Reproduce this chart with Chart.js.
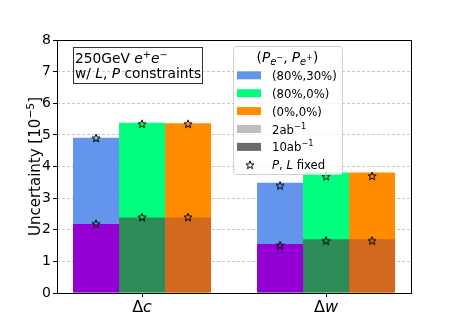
<!DOCTYPE html>
<html>
<head>
<meta charset="utf-8">
<script src="https://cdn.jsdelivr.net/npm/chart.js@4.4.1/dist/chart.umd.min.js"></script>
<style>
  html, body { margin: 0; padding: 0; background: #fff; }
  #chart { display: block; }
</style>
</head>
<body>
<canvas id="chart" width="457" height="330"></canvas>
<script>
// categories on the x axis
const categories = ['Δc', 'Δw'];
const catSymbol = ['Δ', 'Δ'];
const catLetter = ['c', 'w'];

// polarisation configurations (P_e-, P_e+)
const polLabels = ['(80%,30%)', '(80%,0%)', '(0%,0%)'];

// uncertainty [1e-5], 2 ab^-1 (full bar) per configuration, [Δc, Δw]
const lumi2Blue = [4.91, 3.49];
const lumi2Green = [5.38, 3.81];
const lumi2Orange = [5.37, 3.81];
// 10 ab^-1 (lower bar)
const lumi10Blue = [2.18, 1.55];
const lumi10Green = [2.39, 1.70];
const lumi10Orange = [2.39, 1.70];
// P, L fixed (stars)
const fixed2Blue = [4.90, 3.40];
const fixed2Green = [5.35, 3.69];
const fixed2Orange = [5.35, 3.70];
const fixed10Blue = [2.19, 1.51];
const fixed10Green = [2.40, 1.66];
const fixed10Orange = [2.40, 1.66];

const yTicks = [0, 1, 2, 3, 4, 5, 6, 7, 8];

const lumi2Colors = ['#6495ED', '#00FF7F', '#FF8C00'];
const lumi10Colors = ['#9400D3', '#2E8B57', '#D2691E'];

const FONT = '"DejaVu Sans", "Liberation Sans", sans-serif';
const catPct = 0.75;
const barUnit = catPct / 3;

const lumi2 = [lumi2Blue, lumi2Green, lumi2Orange];
const lumi10 = [lumi10Blue, lumi10Green, lumi10Orange];
const fixed2 = [fixed2Blue, fixed2Green, fixed2Orange];
const fixed10 = [fixed10Blue, fixed10Green, fixed10Orange];

function makeStar() {
  const c = document.createElement('canvas');
  c.width = 12; c.height = 12;
  const g = c.getContext('2d');
  g.beginPath();
  for (let k = 0; k < 10; k++) {
    const r = k % 2 ? 1.8 : 4.3;
    const a = -Math.PI / 2 + k * Math.PI / 5;
    const px = 6 + r * Math.cos(a), py = 6.4 + r * Math.sin(a);
    if (k) g.lineTo(px, py); else g.moveTo(px, py);
  }
  g.closePath();
  g.strokeStyle = '#000';
  g.lineWidth = 1;
  g.stroke();
  return c;
}
const starImg = makeStar();

const toPoints = (arr) => arr.map((v, i) => ({ x: i, y: v }));

const datasets = [];
const starPoints = [];
for (let k = 0; k < 3; k++) {
  datasets.push({
    type: 'bar', label: polLabels[k] + ' 10ab', data: toPoints(lumi10[k]),
    backgroundColor: lumi10Colors[k], stack: 's' + k, order: 1
  });
  datasets.push({
    type: 'bar', label: polLabels[k] + ' 2ab', data: toPoints(lumi2[k]),
    backgroundColor: lumi2Colors[k], stack: 's' + k, order: 2
  });
  categories.forEach((_, i) => {
    const x = i + (k - 1) * barUnit;
    starPoints.push({ x: x, y: fixed2[k][i] });
    starPoints.push({ x: x, y: fixed10[k][i] });
  });
}
datasets.push({
  type: 'scatter', label: 'P, L fixed', data: starPoints,
  pointStyle: starImg, order: 0
});

function fontOf(p, base) {
  return (p.i ? 'italic ' : '') + (base * (p.s || 1)).toFixed(1) + 'px ' + FONT;
}
function richWidth(ctx, parts, base) {
  let w = 0;
  for (const p of parts) { ctx.font = fontOf(p, base); w += ctx.measureText(p.t).width; }
  return w;
}
function drawRich(ctx, parts, x, y, base) {
  for (const p of parts) {
    ctx.font = fontOf(p, base);
    ctx.fillText(p.t, x, y + (p.dy || 0));
    x += ctx.measureText(p.t).width;
  }
}

const decor = {
  id: 'decor',
  afterDraw(chart) {
    const ctx = chart.ctx;
    const a = chart.chartArea;
    const xs = chart.scales.x;
    ctx.save();
    ctx.fillStyle = '#000';
    ctx.textBaseline = 'alphabetic';

    // frame
    ctx.strokeStyle = '#000';
    ctx.lineWidth = 1;
    ctx.strokeRect(a.left + 0.5, a.top + 0.5, a.right - a.left - 1, a.bottom - a.top);

    // y axis title, rotated
    const yTitle = [{ t: 'Uncertainty [10' }, { t: '−5', s: 0.72, dy: -6 }, { t: ']' }];
    const yw = richWidth(ctx, yTitle, 15);
    ctx.save();
    ctx.translate(40, (a.top + a.bottom) / 2);
    ctx.rotate(-Math.PI / 2);
    drawRich(ctx, yTitle, -yw / 2, 0, 15);
    ctx.restore();

    // x tick labels: upright Δ + italic letter
    categories.forEach((c, i) => {
      const parts = [{ t: catSymbol[i] }, { t: catLetter[i], i: 1 }];
      const w = richWidth(ctx, parts, 16);
      drawRich(ctx, parts, xs.getPixelForValue(i) - w / 2, a.bottom + 19, 16);
    });

    // text box, top left
    const bx = a.left + 16, by = a.top + 7;
    ctx.strokeStyle = '#333';
    ctx.strokeRect(bx + 0.5, by + 0.5, 129, 36);
    drawRich(ctx, [{ t: '250GeV ' }, { t: 'e', i: 1 }, { t: '+', s: 0.7, dy: -5 },
      { t: 'e', i: 1 }, { t: '−', s: 0.7, dy: -5 }], bx + 2, by + 16, 13.8);
    drawRich(ctx, [{ t: 'w/ ' }, { t: 'L', i: 1 }, { t: ', ' }, { t: 'P', i: 1 },
      { t: ' constraints' }], bx + 2, by + 31, 13.8);

    // legend
    const lx = 233, ly = 46, lw = 109, lh = 128;
    ctx.beginPath();
    ctx.roundRect(lx + 0.5, ly + 0.5, lw, lh, 3);
    ctx.fillStyle = 'rgba(255,255,255,0.8)';
    ctx.fill();
    ctx.strokeStyle = '#d0d0d0';
    ctx.stroke();
    ctx.fillStyle = '#000';
    const title = [{ t: '(' }, { t: 'P', i: 1 }, { t: 'e', i: 1, s: 0.72, dy: 3 }, { t: '−', s: 0.6, dy: -2 },
      { t: ', ' }, { t: 'P', i: 1 }, { t: 'e', i: 1, s: 0.72, dy: 3 }, { t: '+', s: 0.6, dy: -2 }, { t: ')' }];
    const tw = richWidth(ctx, title, 13.7);
    drawRich(ctx, title, lx + lw / 2 - tw / 2, ly + 16, 13.7);

    const rows = [
      { color: lumi2Colors[0], parts: [{ t: polLabels[0] }] },
      { color: lumi2Colors[1], parts: [{ t: polLabels[1] }] },
      { color: lumi2Colors[2], parts: [{ t: polLabels[2] }] },
      { color: '#bdbdbd', parts: [{ t: '2ab' }, { t: '−1', s: 0.7, dy: -5 }] },
      { color: '#6b6b6b', parts: [{ t: '10ab' }, { t: '−1', s: 0.7, dy: -5 }] },
      { star: true, parts: [{ t: 'P', i: 1 }, { t: ', ' }, { t: 'L', i: 1 }, { t: ' fixed' }] }
    ];
    rows.forEach((r, k) => {
      const cy = ly + 29.3 + k * 17.9;
      if (r.star) {
        ctx.drawImage(starImg, 250 - 6, cy - 6);
      } else {
        ctx.fillStyle = r.color;
        ctx.fillRect(237, cy - 4, 24, 8);
      }
      ctx.fillStyle = '#000';
      drawRich(ctx, r.parts, 272, cy + 4.5, 11.7);
    });
    ctx.restore();
  }
};

new Chart(document.getElementById('chart'), {
  type: 'bar',
  data: { datasets },
  options: {
    responsive: false,
    animation: false,
    devicePixelRatio: 1,
    layout: { padding: { left: 0, right: 45, top: 40, bottom: 0 } },
    datasets: {
      bar: { barPercentage: 1, categoryPercentage: catPct, borderWidth: 0 }
    },
    plugins: { legend: { display: false }, tooltip: { enabled: false } },
    scales: {
      x: {
        type: 'linear', min: -0.462, max: 1.467, stacked: true, offset: false,
        afterBuildTicks: (s) => { s.ticks = categories.map((_, i) => ({ value: i })); },
        afterFit: (s) => { s.height = 37; },
        ticks: { display: false },
        grid: { offset: false, drawOnChartArea: false, drawTicks: true, tickLength: 4, tickColor: '#000' },
        border: { display: false }
      },
      y: {
        min: 0, max: 8, stacked: false,
        afterBuildTicks: (s) => { s.ticks = yTicks.map((v) => ({ value: v })); },
        afterFit: (s) => { s.width = 57; },
        ticks: { color: '#000', font: { family: FONT, size: 14 }, padding: 2 },
        grid: { color: '#b8b8b8', lineWidth: 0.8, tickColor: '#000', tickLength: 4, tickWidth: 1, tickBorderDash: [] },
        border: { display: false, dash: [3, 2] },
        title: { display: false }
      }
    }
  },
  plugins: [decor]
});
</script>
</body>
</html>
